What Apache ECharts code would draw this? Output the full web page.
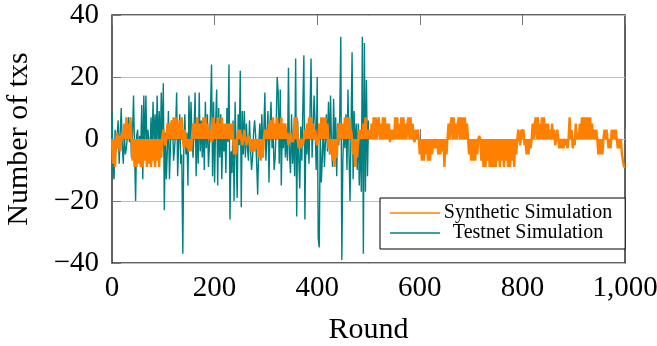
<!DOCTYPE html>
<html>
<head>
<meta charset="utf-8">
<script src="https://cdn.jsdelivr.net/npm/echarts@6/dist/echarts.min.js"></script>
<style>
  html, body { margin: 0; padding: 0; background: #fff; }
  #chart { width: 657px; height: 346px; }
</style>
</head>
<body>
<div id="chart"></div>
<script>
// rounds are sampled every 2 steps
const roundStep = 2;

const xTickLabels = { 0: "0", 200: "200", 400: "400", 600: "600", 800: "800", 1000: "1,000" };
const yTickLabels = { "-40": "\u221240", "-20": "\u221220", "0": "0", "20": "20", "40": "40" };

// Testnet Simulation, rounds 0..500
const testnetValues = [
  9, -10, -13, 3, -4, 1, 6, -8, 2, 10,
  -2, -8, 2, -5, -3, 1, 7, -1, 3, -6,
  2, 14, -4, -20, 1, 3, -6, 1, -3, 11,
  -13, 14, -5, 14, -2, 3, -1, -6, 7, -4,
  12, -2, 8, -3, 14, -4, 9, -6, 15, -2,
  18, -23, 2, -13, -3, 9, -13, -2, 5, 6,
  -7, -3, 3, 15, -12, -1, 8, -8, -5, -37,
  -2, 8, -5, 2, -15, 14, -3, 12, 1, -6,
  3, 15, -12, 6, -8, 15, -4, 6, -6, 4,
  -10, 12, -3, 8, -9, -2, 9, 24, -12, 12,
  -14, 5, 16, -15, 10, -6, 8, -13, 3, -4,
  3, -11, 10, -1, 24, -26, -4, -11, 6, -20,
  12, -4, -19, 8, -2, 22, -22, 9, -5, 9,
  -6, 5, -3, -7, 6, -3, -10, -6, 2, 6,
  1, -8, -18, -2, 5, -6, 8, -3, 3, 15,
  -7, -7, 9, -14, 5, 12, -3, 3, -10, -6,
  4, 20, 15, -8,
  16, -15, 4, -3, 5, -6, 2, -7, 23, -5,
  -11, 8, -8, 3, -12, 26, -25, 6, -6,
  -16, 4, -7, 10, 27, -26, 3, -5, 5, -8,
  9, 26, -6, 3, 14, 5, -10, 20, -32, -35,
  3, -14, -6, 5, -9, -1, 8, -4, 12, -5,
  14, -2, -9, 13, -4, 7, -12, 5, -2, 8,
  33, -39, -7, 4, -3, 8, -10, 16, -5, -20,
  4, 28, -13, 9, -6, 5, -10, 5, -15, 3,
  -17, 33, -37, 31, -17, 19, -12, 6
];

// Synthetic Simulation, rounds 0..1000
const syntheticValues = [
  0, -8, 0, -9, 0, 2, -3, 1, -4, 0, 2, 0, 5, 0, 7, 0, 5, 0, 7, 0, -7, 0, -9, 0, -9,
  0, -8, 0, -9, 0, -9, 0, -7, 0, -9, 0, -8, 0, -9, 0, -7, 0, -9, 0, -7, 0, -9, 0, -6, 0,
  3, 0, -2, 0, 5, 0, 5, 0, 6, 0, 7, 0, 7, 0, 5, 0, 6, 0, 7, 0, -3, 3, 0, -3, 0,
  -4, 0, -4, 0, 5, 0, 5, 0, 7, 0, 5, 0, 5, 0, 7, 0, 7, 0, 5, 0, 3, 0, -1, 0, 7,
  0, 5, 0, 7, 0, 5, 0, 7, 0, 5, 0, 5, 0, 5, 0, 5, 0, 5, 0, -5, 0, -5, 0, 3, 0,
  3, 0, -2, 0, 3, 0, -2, 0, 1, 0, -4, 0, -4, 0, -4, 0, -3, 0, -6, 0, -7, 0, -6, 0, 3,
  0, 3, 0, 5, 0, 6, 0, 7, 0, 5, 0, 7, 0, 5, 0, 7, 0, 5, 0, 5, 0, 2, -2, 0, 2,
  0, -1, 0, 7, 0, 7, 0, -3, 0, -3, 0, -2, 0, 3, 0, 5, 0, 7, 0, 7, 0, 5, 0, 3, 0,
  -2, 0, 5, 0, 7, 0, 7, 0, 7, 0, 5, -3, 0, -5, 0, -7, 0, -9, 0, -6, 0, 5, 0, 5, 0,
  5, 0, 7, 0, 7, 0, 7, 0, 3, 0, -5, 0, -9, 0, -6, 0, 3, 0, 3, 0, 5, 0, 7, 0, 3,
  0, 3, 0, 5, 0, 7, 0, 7, 0, 5, 7, 0, 5, 0, 7, 0, 7, 0, 5, 0, 5, -1, 3, 0, 3,
  0, 7, 0, 7, 0, 5, 0, 7, 0, 7, 0, 5, 0, 5, 7, 0, 7, 0, 5, 0, -1, 3, 0, 3, 0,
  -5, 0, -7, 0, -7, 0, -5, 0, -7, 0, -7, 0, -5, 0, -3, 0, -3, 0, -5, 0, -5, 0, -4, 0, -9,
  0, -5, 0, 5, 0, 5, 7, 0, 7, 0, 5, 0, 5, 7, 0, 7, 0, 7, 0, 7, 0, 5, 0, -5, 0,
  -7, 0, -7, 0, -7, 0, -5, 0, 1, 0, -7, 0, -9, 0, -9, 0, -7, 0, -9, 0, -9, 0, -9, 0, -9,
  0, -7, 0, -9, 0, -7, 0, -9, 0, -7, 0, -9, 0, -9, 0, -7, 0, -9, 0, -5, 0, 3, 0, -2, 3,
  0, 3, -2, 0, -5, 0, -5, 0, -3, 0, 5, 0, 5, 7, 0, 7, 0, 5, 0, 7, 0, 7, 0, 5, 0,
  5, 0, 3, 0, 5, 0, 3, -2, 0, 3, 0, -3, 0, -3, 0, -3, 0, -2, 0, -3, 0, 7, 0, 3, -3,
  0, -2, 5, 0, 2, 0, 5, 0, 7, 0, 7, 0, 7, 0, 7, 0, 7, 0, 5, 0, 3, 0, 3, 0, -5,
  0, -5, 0, -5, 0, 3, 0, 3, 0, -3, 0, -3, 3, 0, 3, 0, 3, 0, -3, 0, -3, 0, -5, -7, -9,
  -9
];

const SERIF = "'Liberation Serif', 'Times New Roman', serif";

const toPairs = vals => vals.map((v, i) => [i * roundStep, v]);

const chart = echarts.init(document.getElementById("chart"), null, { renderer: "canvas" });

const option = {
  animation: false,
  backgroundColor: "#fff",
  grid: {
    left: 112, right: 32, top: 15, bottom: 83,
    outerBoundsMode: "none",
    containLabel: false,
    show: true,
    borderColor: "#2e2e2e",
    borderWidth: 1.5,
    backgroundColor: "transparent"
  },
  legend: {
    data: ["Synthetic Simulation", "Testnet Simulation"],
    orient: "vertical",
    left: 380,
    top: 198,
    padding: [5, 13, 6, 10],
    itemGap: 0,
    itemWidth: 50,
    itemHeight: 1.5,
    icon: "rect",
    backgroundColor: "#fff",
    borderColor: "#000",
    borderWidth: 1,
    borderRadius: 0,
    z: 10,
    formatter: name => "{c|" + name + "}",
    textStyle: {
      rich: {
        c: { width: 166, align: "center", fontFamily: SERIF, fontSize: 20, lineHeight: 24, color: "#000" }
      }
    }
  },
  xAxis: [
    {
      type: "value",
      min: 0, max: 1000, interval: 200,
      name: "Round",
      nameLocation: "middle",
      nameGap: 52,
      nameTextStyle: { fontFamily: SERIF, fontSize: 30, color: "#000" },
      axisLine: { show: false },
      axisTick: { inside: true, length: 10, lineStyle: { color: "#777", width: 1 } },
      axisLabel: {
        margin: 11,
        fontFamily: SERIF, fontSize: 29, color: "#000",
        formatter: v => xTickLabels[v]
      },
      splitLine: { show: false }
    },
    {
      type: "value",
      position: "top",
      min: 0, max: 1000, interval: 200,
      axisLine: { show: false },
      axisTick: { inside: true, length: 10, lineStyle: { color: "#777", width: 1 } },
      axisLabel: { show: false },
      splitLine: { show: false }
    }
  ],
  yAxis: {
    type: "value",
    min: -40, max: 40, interval: 20,
    name: "Number of txs",
    nameLocation: "middle",
    nameGap: 78,
    nameTextStyle: { fontFamily: SERIF, fontSize: 30, color: "#000" },
    axisLine: { show: false },
    axisTick: { show: true, inside: true, length: 9, lineStyle: { color: "#777" } },
    axisLabel: {
      margin: 13,
      fontFamily: SERIF, fontSize: 29, color: "#000",
      formatter: v => yTickLabels[String(v)]
    },
    splitLine: { show: true, lineStyle: { color: "#bdbdbd", width: 1 } }
  },
  series: [
    {
      name: "Testnet Simulation",
      type: "line",
      data: toPairs(testnetValues),
      symbol: "none",
      lineStyle: { color: "#008080", width: 1.4 },
      itemStyle: { color: "#008080" },
      z: 2
    },
    {
      name: "Synthetic Simulation",
      type: "line",
      data: toPairs(syntheticValues),
      symbol: "none",
      lineStyle: { color: "#ff8000", width: 2.4 },
      itemStyle: { color: "#ff8000" },
      z: 3
    }
  ]
};

chart.setOption(option);
</script>
</body>
</html>
